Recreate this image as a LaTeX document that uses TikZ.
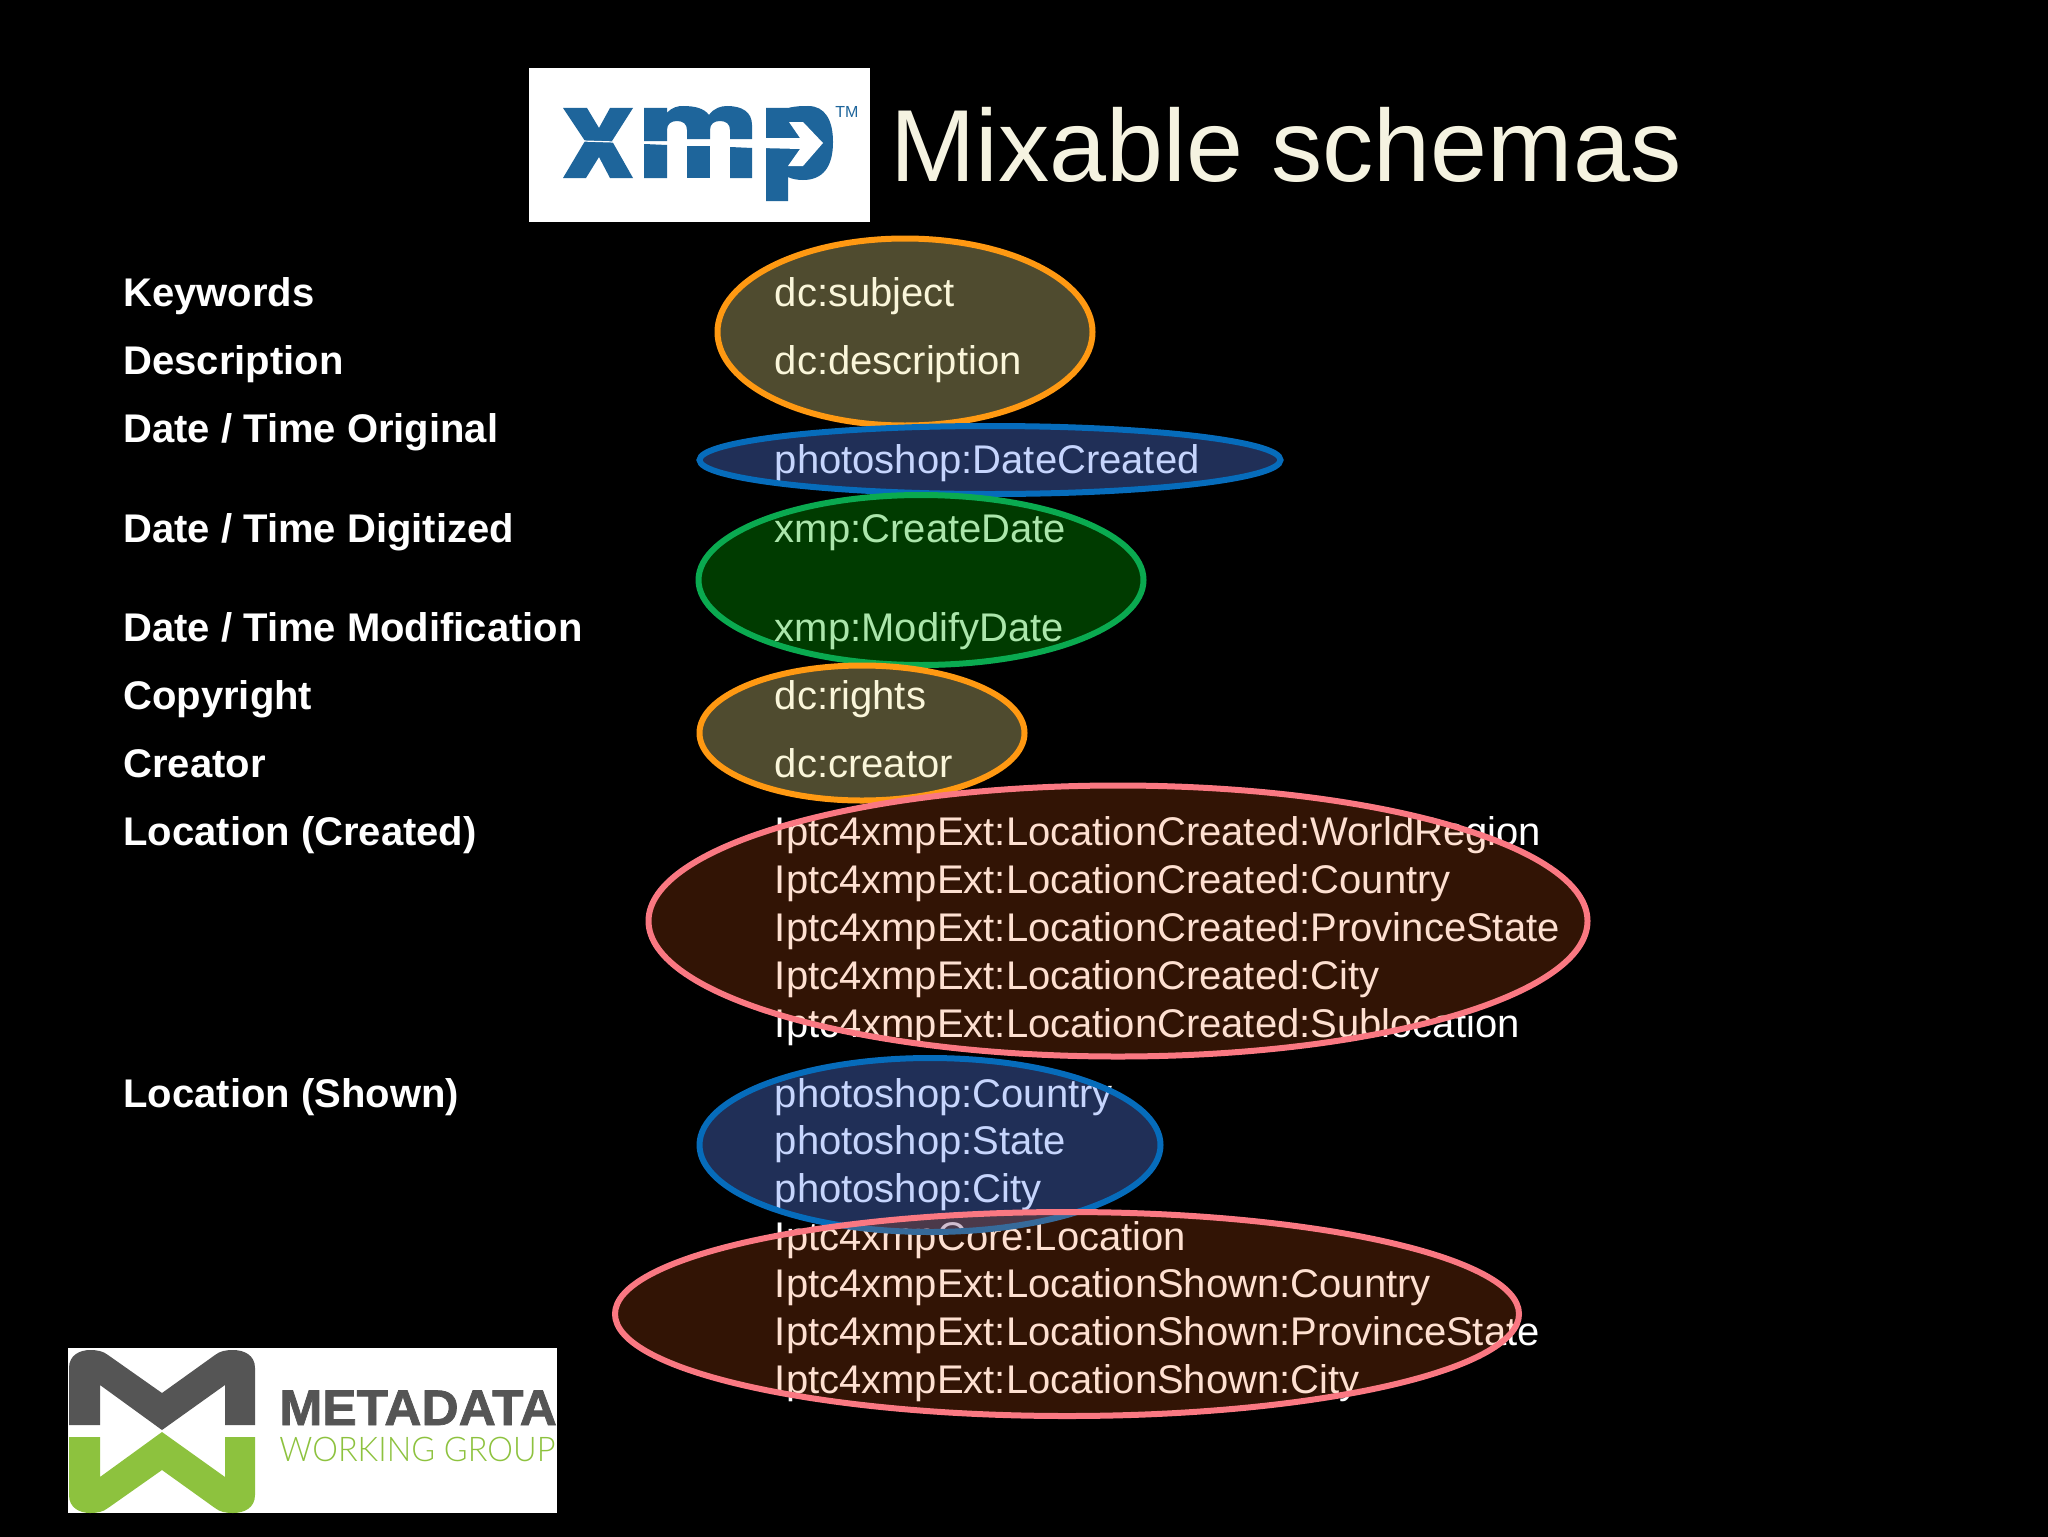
\documentclass[tikz,border=0pt]{standalone}
\usepackage{xcolor}
\usepackage{fontspec}
\setmainfont{Liberation Sans}
\newfontfamily\thinfont[FakeStretch=0.955]{Lato Light}
\newfontfamily\heavyfont[FakeStretch=1.03,FakeBold=1.5]{Liberation Sans Bold}
\usetikzlibrary{positioning}
\usetikzlibrary{shapes.geometric}

\definecolor{xmpblue}{RGB}{30,101,155}
\definecolor{mwggray}{RGB}{85,85,85}
\definecolor{mwggreen}{RGB}{141,194,62}
\definecolor{titlecream}{RGB}{245,243,225}
\definecolor{linkorange}{RGB}{255,153,18}
\definecolor{linkblue}{RGB}{6,108,187}
\definecolor{linkgreen}{RGB}{10,170,80}
\definecolor{linkred}{RGB}{250,120,130}
\definecolor{fillorange}{RGB}{242,230,145}
\definecolor{fillblue}{RGB}{94,137,251}
\definecolor{fillgreen}{RGB}{0,180,0}
\definecolor{fillred}{RGB}{250,100,25}

\begin{document}
\begin{tikzpicture}
[
	x = 0.5pt, y = -0.5pt,
	prop/.style = {anchor = base west, inner sep = 0cm, text = white, font = \fontsize{20}{24}\selectfont\bfseries},
	schema/.style = {anchor = base west, inner sep = 0cm, text = white, font = \fontsize{20}{24}\selectfont},
	ring/.style = {ellipse, draw, line width = 3pt, inner sep = 0cm, draw opacity = 1},
	orangering/.style = {ring, draw = linkorange, fill = fillorange, fill opacity = 0.33},
	bluering/.style = {ring, draw = linkblue, fill = fillblue, fill opacity = 0.35},
	greenring/.style = {ring, draw = linkgreen, fill = fillgreen, fill opacity = 0.33},
	redring/.style = {ring, draw = linkred, fill = fillred, fill opacity = 0.2},
]

	% page
	\useasboundingbox (0,0) rectangle (2048,1536);
	\fill [black] (-10,-10) rectangle (2058,1546);

	% xmp logo
	\fill [white] (529,68) rectangle (870,222);
	\fill [xmpblue] (563,108) -- (587,108) -- (599,128) -- (610,108) -- (633,108) -- (612,141) -- (633,178) -- (610,178) -- (599,157) -- (586,178) -- (563,178) -- (585,141) -- cycle;
	\draw [white, line width = 0.6pt] (583,141) -- (614,142);
	\fill [xmpblue] (644,108) -- (667,108) -- (667,113) .. controls (672,107) and (678,106) .. (683,106) .. controls (694,106) and (704,108) .. (709,115) .. controls (714,108) and (721,106) .. (727,106) .. controls (742,106) and (752,112) .. (752,125) -- (752,139) -- (730,139) -- (730,130) .. controls (730,124) and (726,121) .. (720,121) .. controls (714,121) and (710,124) .. (710,130) -- (710,139) -- (687,139) -- (687,130) .. controls (687,124) and (683,121) .. (677,121) .. controls (671,121) and (667,124) .. (667,130) -- (667,141) -- (644,141) -- cycle;
	\fill [xmpblue] (644,144) -- (667,145) -- (667,178) -- (644,178) -- cycle;
	\fill [xmpblue] (687,146) -- (710,146) -- (710,178) -- (687,178) -- cycle;
	\fill [xmpblue] (730,147) -- (752,148) -- (752,178) -- (730,178) -- cycle;
	\fill [xmpblue] (766,108) -- (788,108) .. controls (796,106) and (802,106) .. (808,106) .. controls (825,106) and (833,120) .. (833,142) .. controls (833,168) and (822,180) .. (803,180) .. controls (797,180) and (792,179) .. (788,177) -- (788,201) -- (766,201) -- cycle;
	\fill [white] (760,138) -- (800,138) -- (789,122) -- (803,122) -- (823,143) -- (803,166) -- (788,166) -- (800,149) -- (760,148) -- cycle;
	\node (tm) [anchor = base west, inner sep = 0cm, text = xmpblue, font = \fontsize{8}{9}\selectfont] at (835,118) {TM};

	% title
	\node (title) [anchor = base west, inner sep = 0cm, text = titlecream, font = \fontsize{51.2}{60}\selectfont] at (890,181) {Mixable schemas};

	% properties
	\node (keywords) [prop] at (123,306) {Keywords};
	\node (description) [prop] at (123,374) {Description};
	\node (original) [prop] at (123,442) {Date / Time Original};
	\node (digitized) [prop] at (123,542) {Date / Time Digitized};
	\node (modification) [prop] at (123,641) {Date / Time Modification};
	\node (copyright) [prop] at (123,709) {Copyright};
	\node (creator) [prop] at (123,777) {Creator};
	\node (created) [prop] at (123,845) {Location (Created)};
	\node (shown) [prop] at (123,1107) {Location (Shown)};

	% schemas
	\node (subject) [schema] at (774.5,306) {dc:subject};
	\node (dcdesc) [schema] at (774.5,374) {dc:description};
	\node (datecreated) [schema] at (774.5,473) {photoshop:DateCreated};
	\node (createdate) [schema] at (774.5,542) {xmp:CreateDate};
	\node (modifydate) [schema] at (774.5,641) {xmp:ModifyDate};
	\node (rights) [schema] at (774.5,709) {dc:rights};
	\node (dccreator) [schema] at (774.5,777) {dc:creator};
	%
	\node (lcworld) [schema] at (774.5,845) {Iptc4xmpExt:LocationCreated:WorldRegion};
	\node (lccountry) [schema] at (774.5,893) {Iptc4xmpExt:LocationCreated:Country};
	\node (lcstate) [schema] at (774.5,941) {Iptc4xmpExt:LocationCreated:ProvinceState};
	\node (lccity) [schema] at (774.5,989) {Iptc4xmpExt:LocationCreated:City};
	\node (lcsub) [schema] at (774.5,1037) {Iptc4xmpExt:LocationCreated:Sublocation};
	%
	\node (pscountry) [schema] at (774.5,1107) {photoshop:Country};
	\node (psstate) [schema] at (774.5,1154) {photoshop:State};
	\node (pscity) [schema] at (774.5,1202) {photoshop:City};
	\node (corelocation) [schema] at (774.5,1250) {Iptc4xmpCore:Location};
	\node (lscountry) [schema] at (774.5,1297) {Iptc4xmpExt:LocationShown:Country};
	\node (lsstate) [schema] at (774.5,1345) {Iptc4xmpExt:LocationShown:ProvinceState};
	\node (lscity) [schema] at (774.5,1393) {Iptc4xmpExt:LocationShown:City};

	% rings, on top of the text
	\node (ring1) [orangering, minimum width = 187.5pt, minimum height = 93.5pt] at (905,332) {};
	\node (ring2) [bluering, minimum width = 290.5pt, minimum height = 34pt] at (990,460) {};
	\node (ring3) [greenring, minimum width = 222.5pt, minimum height = 85pt] at (921,580) {};
	\node (ring4) [orangering, minimum width = 162.5pt, minimum height = 67.5pt] at (862,733) {};
	\node (ring5) [redring, minimum width = 469.5pt, minimum height = 135.5pt] at (1118,921) {};
	\node (ring6) [bluering, minimum width = 230.5pt, minimum height = 87pt] at (930,1145) {};
	\node (ring7) [redring, minimum width = 452pt, minimum height = 102pt] at (1067,1314) {};

	% metadata logo
	\fill [white] (68,1348) rectangle (557,1513);
	\fill [mwggray] (69,1425) -- (69,1368) .. controls (69,1355) and (80,1350) .. (90,1350) .. controls (97,1350) and (103,1351) .. (108,1355) -- (162,1393) -- (215,1355) .. controls (220,1351) and (226,1350) .. (233,1350) .. controls (244,1350) and (255,1355) .. (255,1368) -- (255,1425) -- (225,1425) -- (225,1385) -- (162,1430) -- (100,1385) -- (100,1425) -- cycle;
	\fill [mwggreen] (69,1437) -- (100,1437) -- (100,1477) -- (162,1432) -- (225,1477) -- (225,1437) -- (255,1437) -- (255,1495) .. controls (255,1508) and (244,1513) .. (233,1513) .. controls (226,1513) and (220,1512) .. (215,1508) -- (162,1470) -- (108,1508) .. controls (103,1512) and (97,1513) .. (90,1513) .. controls (80,1513) and (69,1508) .. (69,1495) -- cycle;
	\node (metadata) [anchor = base west, inner sep = 0cm, text = mwggray, font = \fontsize{25}{30}\selectfont\heavyfont] at (279,1425) {METADATA};
	\node (working) [anchor = base west, inner sep = 0cm, text = mwggreen, font = \fontsize{17}{20}\selectfont\thinfont] at (279,1461) {WORKING GROUP};

\end{tikzpicture}
\end{document}
